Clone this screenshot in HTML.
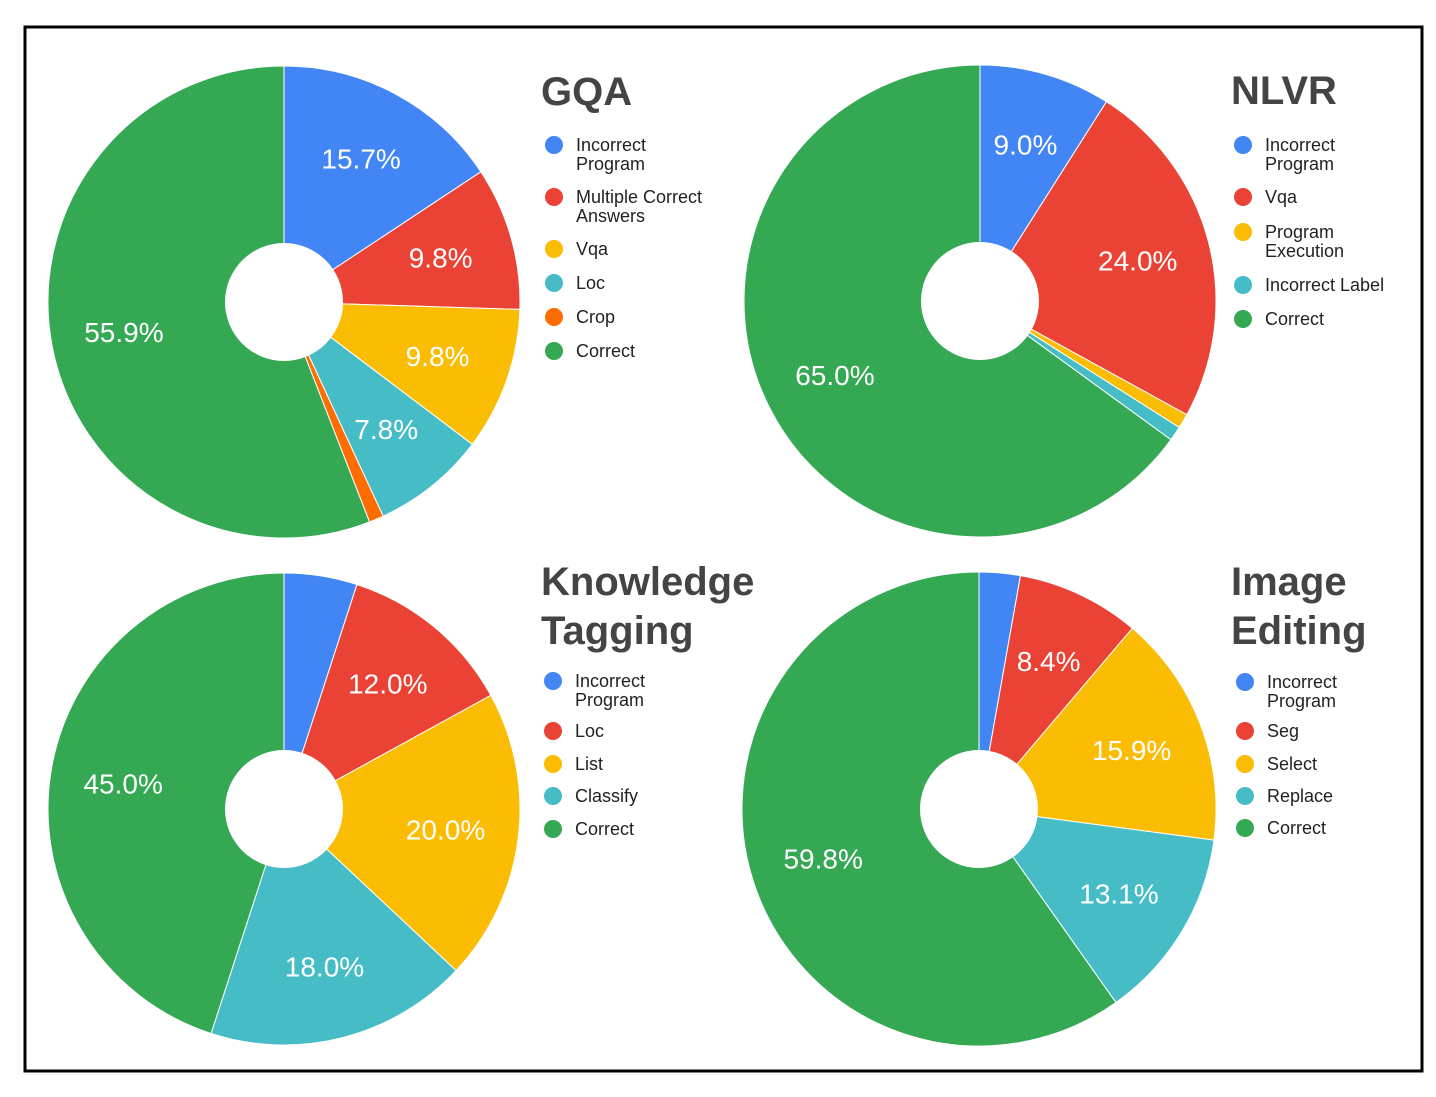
<!DOCTYPE html>
<html><head><meta charset="utf-8">
<style>
html,body{margin:0;padding:0;background:#fff;}
svg{display:block;font-family:"Liberation Sans",sans-serif;}
</style></head>
<body>
<svg id="c" width="1436" height="1097" viewBox="0 0 1436 1097">
<rect x="25" y="27" width="1397" height="1044" fill="#fff" stroke="#000" stroke-width="3"/>
</svg>
<script>
const COLORS={blue:"#4285F4",red:"#EA4335",yellow:"#FBBC04",teal:"#46BDC6",orange:"#FF6D01",green:"#34A853"};
const gqaLabels=["Incorrect Program","Multiple Correct Answers","Vqa","Loc","Crop","Correct"];
const gqaValues=[15.7,9.8,9.8,7.8,1.0,55.9];
const gqaColors=["blue","red","yellow","teal","orange","green"];
const nlvrLabels=["Incorrect Program","Vqa","Program Execution","Incorrect Label","Correct"];
const nlvrValues=[9.0,24.0,1.0,1.0,65.0];
const nlvrColors=["blue","red","yellow","teal","green"];
const ktLabels=["Incorrect Program","Loc","List","Classify","Correct"];
const ktValues=[5.0,12.0,20.0,18.0,45.0];
const ktColors=["blue","red","yellow","teal","green"];
const ieLabels=["Incorrect Program","Seg","Select","Replace","Correct"];
const ieValues=[2.8,8.4,15.9,13.1,59.8];
const ieColors=["blue","red","yellow","teal","green"];

const svg=document.getElementById('c');
const NS="http://www.w3.org/2000/svg";
function mk(t,a){const e=document.createElementNS(NS,t);for(const k in a)e.setAttribute(k,a[k]);return e;}

function pie(cfg){
  const g=mk('g',{});
  
  
  svg.appendChild(g);
  const total=cfg.values.reduce((a,b)=>a+b,0);
  let acc=0;
  const pt=(f,r)=>{const a=f*2*Math.PI;return [cfg.cx+r*Math.sin(a),cfg.cy-r*Math.cos(a)];};
  cfg.values.forEach((v,i)=>{
    const f0=acc/total,f1=(acc+v)/total;acc+=v;
    const [x0,y0]=pt(f0,cfg.r),[x1,y1]=pt(f1,cfg.r);
    const large=(f1-f0)>0.5?1:0;
    const p=mk('path',{d:`M${cfg.cx},${cfg.cy} L${x0},${y0} A${cfg.r},${cfg.r} 0 ${large} 1 ${x1},${y1} Z`,fill:COLORS[cfg.colors[i]],stroke:"#fff","stroke-width":"1"});
    
    
    g.appendChild(p);
    if(v/total>=0.05&&!(cfg.hideFirst&&i===0)){
      const [lx,ly]=pt((f0+f1)/2,cfg.r*0.69);
      const t=mk('text',{x:lx,y:ly+10,'text-anchor':'middle','font-size':'28',fill:'#fff'});
      t.textContent=v.toFixed(1)+'%';
      
      
      g.appendChild(t);
    }
  });
  const h=mk('circle',{cx:cfg.cx,cy:cfg.cy,r:59,fill:'#fff'});
  
  
  g.appendChild(h);
  cfg.title.forEach((line,i)=>{
    const t=mk('text',{x:cfg.tx,y:cfg.ty+i*49,'font-size':'40','font-weight':'bold',fill:'#444'});
    t.textContent=line;
    
    
    g.appendChild(t);
  });
  cfg.labels.forEach((lab,i)=>{
    const y=cfg.ly[i];
    const d=mk('circle',{cx:cfg.lx,cy:y,r:9,fill:COLORS[cfg.colors[i]]});
    
    
    g.appendChild(d);
    const lines=cfg.wrap[i];
    lines.forEach((ln,j)=>{
      const t=mk('text',{x:cfg.lx+22,y:y+6+j*19,'font-size':'18',fill:'#222'});
      t.textContent=ln;
      
      
      g.appendChild(t);
    });
  });
}
pie({name:'gqa',cx:284,cy:302,r:236,values:gqaValues,labels:gqaLabels,colors:gqaColors,title:['GQA'],tx:541,ty:105,lx:554,
  ly:[145,197,249,283,317,351],wrap:[["Incorrect","Program"],["Multiple Correct","Answers"],["Vqa"],["Loc"],["Crop"],["Correct"]]});
pie({name:'nlvr',cx:980,cy:301,r:236,values:nlvrValues,labels:nlvrLabels,colors:nlvrColors,title:['NLVR'],tx:1231,ty:104,lx:1243,
  ly:[145,197,232,285,319],wrap:[["Incorrect","Program"],["Vqa"],["Program","Execution"],["Incorrect Label"],["Correct"]]});
pie({name:'knowledge-tagging',cx:284,cy:809,r:236,values:ktValues,labels:ktLabels,colors:ktColors,hideFirst:true,title:['Knowledge','Tagging'],tx:541,ty:595,lx:553,
  ly:[681,731,764,796,829],wrap:[["Incorrect","Program"],["Loc"],["List"],["Classify"],["Correct"]]});
pie({name:'image-editing',cx:979,cy:809,r:237,values:ieValues,labels:ieLabels,colors:ieColors,title:['Image','Editing'],tx:1231,ty:595,lx:1245,
  ly:[682,731,764,796,828],wrap:[["Incorrect","Program"],["Seg"],["Select"],["Replace"],["Correct"]]});
</script>
</body></html>
